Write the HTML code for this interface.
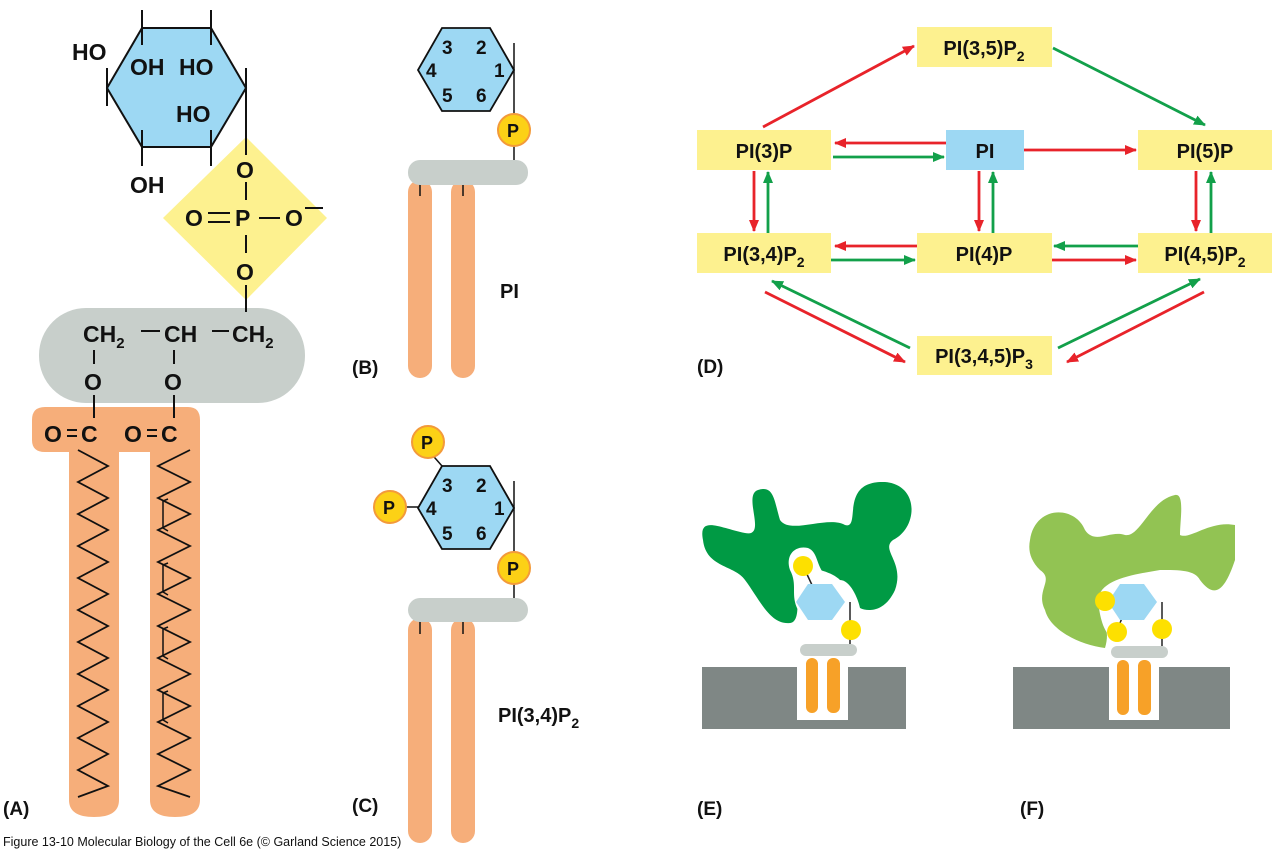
<!DOCTYPE html>
<html><head><meta charset="utf-8"><style>
html,body{margin:0;padding:0;background:#fff;}
svg{display:block;font-family:"Liberation Sans",sans-serif;font-weight:bold;}
</style></head><body>
<svg width="1280" height="855" viewBox="0 0 1280 855" xmlns="http://www.w3.org/2000/svg">
<defs>
<marker id="ar" markerWidth="12" markerHeight="10" refX="11" refY="5" orient="auto" markerUnits="userSpaceOnUse"><path d="M0,0 L12,5 L0,10 Z" fill="#e8232a"/></marker>
<marker id="ag" markerWidth="12" markerHeight="10" refX="11" refY="5" orient="auto" markerUnits="userSpaceOnUse"><path d="M0,0 L12,5 L0,10 Z" fill="#12a04a"/></marker>
</defs>

<!-- Panel A -->
<path d="M32,420 Q32,407 45,407 L188,407 Q200,407 200,420 L200,800 Q200,817 175,817 Q150,817 150,800 L150,452 L119,452 L119,800 Q119,817 94,817 Q69,817 69,800 L69,452 L45,452 Q32,452 32,440 Z" fill="#f6ae7a"/>
<rect x="39" y="308" width="266" height="95" rx="47" fill="#c8cfcb"/>
<polygon points="246,137 327,218 246,300 163,218" fill="#fdf18f"/>
<polygon points="142,28 211,28 246,88 211,147 142,147 107,88" fill="#9dd8f3" stroke="#111" stroke-width="2"/>
<g stroke="#111" stroke-width="2">
<line x1="142" y1="10" x2="142" y2="45"/><line x1="211" y1="10" x2="211" y2="45"/>
<line x1="107" y1="68" x2="107" y2="106"/><line x1="246" y1="68" x2="246" y2="155"/>
<line x1="142" y1="130" x2="142" y2="166"/><line x1="211" y1="130" x2="211" y2="166"/>
<line x1="246" y1="182" x2="246" y2="200"/><line x1="246" y1="235" x2="246" y2="253"/>
<line x1="246" y1="285" x2="246" y2="312"/>
<line x1="94" y1="350" x2="94" y2="364"/><line x1="174" y1="350" x2="174" y2="364"/>
<line x1="94" y1="395" x2="94" y2="418"/><line x1="174" y1="395" x2="174" y2="418"/>
<line x1="208" y1="213" x2="230" y2="213"/><line x1="208" y1="222" x2="230" y2="222"/>
<line x1="259" y1="218" x2="280" y2="218"/><line x1="305" y1="208" x2="323" y2="208"/>
<line x1="141" y1="331" x2="160" y2="331"/><line x1="212" y1="331" x2="229" y2="331"/>
<line x1="67" y1="430" x2="77" y2="430"/><line x1="67" y1="436" x2="77" y2="436"/>
<line x1="147" y1="430" x2="157" y2="430"/><line x1="147" y1="436" x2="157" y2="436"/>
</g>
<g font-size="23" fill="#111">
<text x="72" y="60">HO</text><text x="130" y="75">OH</text><text x="179" y="75">HO</text>
<text x="176" y="122">HO</text><text x="130" y="193">OH</text>
<text x="236" y="178">O</text><text x="185" y="226">O</text><text x="235" y="226">P</text><text x="285" y="226">O</text>
<text x="236" y="280">O</text>
<text x="83" y="342">CH<tspan font-size="15" dy="6">2</tspan></text>
<text x="164" y="342">CH</text>
<text x="232" y="342">CH<tspan font-size="15" dy="6">2</tspan></text>
<text x="84" y="390">O</text><text x="164" y="390">O</text>
<text x="44" y="442">O</text><text x="81" y="442">C</text>
<text x="124" y="442">O</text><text x="161" y="442">C</text>
</g>
<polyline fill="none" stroke="#111" stroke-width="1.8" points="78,450 108,466 78,482 108,498 78,514 108,530 78,546 108,562 78,578 108,594 78,610 108,626 78,642 108,658 78,674 108,690 78,706 108,722 78,738 108,754 78,770 108,786 78,797"/>
<polyline fill="none" stroke="#111" stroke-width="1.8" points="190,450 158,466 190,482 158,498 190,514 158,530 190,546 158,562 190,578 158,594 190,610 158,626 190,642 158,658 190,674 158,690 190,706 158,722 190,738 158,754 190,770 158,786 190,797"/>
<g fill="none" stroke="#111" stroke-width="1.5">
<polyline points="168,499 163,501 163,528 168,531"/><polyline points="168,563 163,565 163,592 168,595"/>
<polyline points="168,627 163,629 163,656 168,659"/><polyline points="168,691 163,693 163,720 168,723"/>
</g>
<text x="3" y="815" font-size="19" fill="#111">(A)</text>

<!-- Panel B -->
<rect x="408" y="180" width="24" height="198" rx="12" fill="#f6ae7a"/>
<rect x="451" y="180" width="24" height="198" rx="12" fill="#f6ae7a"/>
<g stroke="#111" stroke-width="1.5"><line x1="420" y1="182" x2="420" y2="196"/><line x1="463" y1="182" x2="463" y2="196"/><line x1="514" y1="43" x2="514" y2="165"/></g>
<rect x="408" y="160" width="120" height="25" rx="12" fill="#c8cfcb"/>
<polygon points="442,28 490,28 514,70 490,111 442,111 418,70" fill="#9dd8f3" stroke="#111" stroke-width="1.8"/>
<circle cx="514" cy="130" r="16" fill="#fcd116" stroke="#f39a3a" stroke-width="2"/>
<g font-size="19" fill="#111">
<text x="442" y="54">3</text><text x="476" y="54">2</text><text x="426" y="77">4</text><text x="494" y="77">1</text>
<text x="442" y="102">5</text><text x="476" y="102">6</text><text x="507" y="137" font-size="18">P</text>
<text x="500" y="298" font-size="20">PI</text>
<text x="352" y="374">(B)</text>
</g>

<!-- Panel C -->
<rect x="408" y="618" width="24" height="225" rx="12" fill="#f6ae7a"/>
<rect x="451" y="618" width="24" height="225" rx="12" fill="#f6ae7a"/>
<g stroke="#111" stroke-width="1.5"><line x1="420" y1="620" x2="420" y2="634"/><line x1="463" y1="620" x2="463" y2="634"/><line x1="514" y1="481" x2="514" y2="603"/><line x1="428" y1="450" x2="442" y2="466"/><line x1="390" y1="507" x2="418" y2="507"/></g>
<rect x="408" y="598" width="120" height="24" rx="12" fill="#c8cfcb"/>
<polygon points="442,466 490,466 514,508 490,549 442,549 418,508" fill="#9dd8f3" stroke="#111" stroke-width="1.8"/>
<circle cx="428" cy="442" r="16" fill="#fcd116" stroke="#f39a3a" stroke-width="2"/>
<circle cx="390" cy="507" r="16" fill="#fcd116" stroke="#f39a3a" stroke-width="2"/>
<circle cx="514" cy="568" r="16" fill="#fcd116" stroke="#f39a3a" stroke-width="2"/>
<g font-size="19" fill="#111">
<text x="442" y="492">3</text><text x="476" y="492">2</text><text x="426" y="515">4</text><text x="494" y="515">1</text>
<text x="442" y="540">5</text><text x="476" y="540">6</text>
<text x="421" y="449" font-size="18">P</text><text x="383" y="514" font-size="18">P</text><text x="507" y="575" font-size="18">P</text>
<text x="498" y="722" font-size="20">PI(3,4)P<tspan font-size="14" dy="6">2</tspan></text>
<text x="352" y="812">(C)</text>
</g>

<!-- Panel D -->
<g fill="#fdf18f">
<rect x="917" y="27" width="135" height="40"/>
<rect x="697" y="130" width="134" height="40"/>
<rect x="1138" y="130" width="134" height="40"/>
<rect x="697" y="233" width="134" height="40"/>
<rect x="917" y="233" width="135" height="40"/>
<rect x="1138" y="233" width="134" height="40"/>
<rect x="917" y="336" width="135" height="39"/>
</g>
<rect x="946" y="130" width="78" height="40" fill="#9dd8f3"/>
<g font-size="20" fill="#111" text-anchor="middle">
<text x="984" y="55">PI(3,5)P<tspan font-size="14" dy="6">2</tspan></text>
<text x="764" y="158">PI(3)P</text>
<text x="985" y="158">PI</text>
<text x="1205" y="158">PI(5)P</text>
<text x="764" y="261">PI(3,4)P<tspan font-size="14" dy="6">2</tspan></text>
<text x="984" y="261">PI(4)P</text>
<text x="1205" y="261">PI(4,5)P<tspan font-size="14" dy="6">2</tspan></text>
<text x="984" y="363">PI(3,4,5)P<tspan font-size="14" dy="6">3</tspan></text>
</g>
<text x="697" y="373" font-size="19" fill="#111">(D)</text>
<g stroke-width="2.8" fill="none">
<line x1="763" y1="127" x2="914" y2="46" stroke="#e8232a" marker-end="url(#ar)"/>
<line x1="1053" y1="48" x2="1205" y2="125" stroke="#12a04a" marker-end="url(#ag)"/>
<line x1="946" y1="143" x2="835" y2="143" stroke="#e8232a" marker-end="url(#ar)"/>
<line x1="833" y1="157" x2="944" y2="157" stroke="#12a04a" marker-end="url(#ag)"/>
<line x1="1024" y1="150" x2="1136" y2="150" stroke="#e8232a" marker-end="url(#ar)"/>
<line x1="754" y1="171" x2="754" y2="231" stroke="#e8232a" marker-end="url(#ar)"/>
<line x1="768" y1="233" x2="768" y2="172" stroke="#12a04a" marker-end="url(#ag)"/>
<line x1="979" y1="171" x2="979" y2="231" stroke="#e8232a" marker-end="url(#ar)"/>
<line x1="993" y1="233" x2="993" y2="172" stroke="#12a04a" marker-end="url(#ag)"/>
<line x1="1196" y1="171" x2="1196" y2="231" stroke="#e8232a" marker-end="url(#ar)"/>
<line x1="1211" y1="233" x2="1211" y2="172" stroke="#12a04a" marker-end="url(#ag)"/>
<line x1="917" y1="246" x2="835" y2="246" stroke="#e8232a" marker-end="url(#ar)"/>
<line x1="831" y1="260" x2="915" y2="260" stroke="#12a04a" marker-end="url(#ag)"/>
<line x1="1138" y1="246" x2="1054" y2="246" stroke="#12a04a" marker-end="url(#ag)"/>
<line x1="1052" y1="260" x2="1136" y2="260" stroke="#e8232a" marker-end="url(#ar)"/>
<line x1="910" y1="348" x2="772" y2="281" stroke="#12a04a" marker-end="url(#ag)"/>
<line x1="765" y1="292" x2="905" y2="362" stroke="#e8232a" marker-end="url(#ar)"/>
<line x1="1058" y1="348" x2="1200" y2="279" stroke="#12a04a" marker-end="url(#ag)"/>
<line x1="1204" y1="292" x2="1067" y2="362" stroke="#e8232a" marker-end="url(#ar)"/>
</g>

<!-- Panel E -->
<rect x="702" y="667" width="204" height="62" fill="#7f8785"/>
<rect x="797" y="667" width="51" height="53" fill="#fff"/>
<path d="M703,540 C698,515 720,528 745,533 C768,538 742,495 758,490 C774,485 774,500 780,520 C790,535 828,515 845,525 C862,530 838,480 885,482 C920,485 918,528 893,540 C880,550 905,562 895,590 C885,612 868,612 860,608 C858,598 850,580 840,580 C832,572 815,568 805,568 L795,585 C798,600 800,622 790,623 C770,625 760,600 745,580 C735,565 706,568 703,540 Z" fill="#009a44"/>
<path d="M790,570 C785,555 795,545 808,548 C818,552 816,565 825,575 C845,580 850,590 845,610 C835,625 805,625 798,610 C790,595 798,585 790,570 Z" fill="#fff"/>
<rect x="806" y="658" width="12" height="55" rx="6" fill="#f7a128"/>
<rect x="827" y="658" width="13" height="55" rx="6" fill="#f7a128"/>
<rect x="800" y="644" width="57" height="12" rx="6" fill="#c8cfcb"/>
<g stroke="#222" stroke-width="1.5"><line x1="850" y1="602" x2="850" y2="644"/><line x1="805" y1="570" x2="812" y2="585"/></g>
<polygon points="808,584 832,584 845,602 832,620 808,620 796,602" fill="#9dd8f3"/>
<circle cx="803" cy="566" r="10" fill="#fde000"/>
<circle cx="851" cy="630" r="10" fill="#fde000"/>
<text x="697" y="815" font-size="19" fill="#111">(E)</text>

<!-- Panel F -->
<rect x="1013" y="667" width="217" height="62" fill="#7f8785"/>
<rect x="1109" y="667" width="50" height="53" fill="#fff"/>
<path d="M1030,540 C1035,505 1075,505 1085,530 C1095,545 1110,530 1125,535 C1140,538 1150,500 1175,495 C1185,493 1180,520 1180,535 C1190,540 1210,520 1235,525 L1235,560 C1225,590 1215,600 1200,580 C1195,570 1180,570 1160,570 C1130,575 1100,580 1098,600 C1098,615 1112,625 1105,648 C1080,645 1050,630 1045,610 C1035,590 1055,580 1040,570 C1030,560 1028,550 1030,540 Z" fill="#92c353"/>
<path d="M1098,600 C1100,585 1120,580 1140,582 L1190,582 L1195,600 L1190,625 L1120,640 C1105,640 1100,620 1098,600 Z" fill="#fff"/>
<rect x="1117" y="660" width="12" height="55" rx="6" fill="#f7a128"/>
<rect x="1138" y="660" width="13" height="55" rx="6" fill="#f7a128"/>
<rect x="1111" y="646" width="57" height="12" rx="6" fill="#c8cfcb"/>
<g stroke="#222" stroke-width="1.5"><line x1="1162" y1="602" x2="1162" y2="646"/><line x1="1105" y1="602" x2="1120" y2="602"/><line x1="1122" y1="618" x2="1118" y2="628"/></g>
<polygon points="1120,584 1144,584 1157,602 1144,620 1120,620 1108,602" fill="#9dd8f3"/>
<circle cx="1105" cy="601" r="10" fill="#fde000"/>
<circle cx="1117" cy="632" r="10" fill="#fde000"/>
<circle cx="1162" cy="629" r="10" fill="#fde000"/>
<text x="1020" y="815" font-size="19" fill="#111">(F)</text>

<text x="3" y="846" font-size="12.5" font-weight="normal" fill="#111">Figure 13-10  Molecular Biology of the Cell 6e (© Garland Science 2015)</text>
</svg>
</body></html>
